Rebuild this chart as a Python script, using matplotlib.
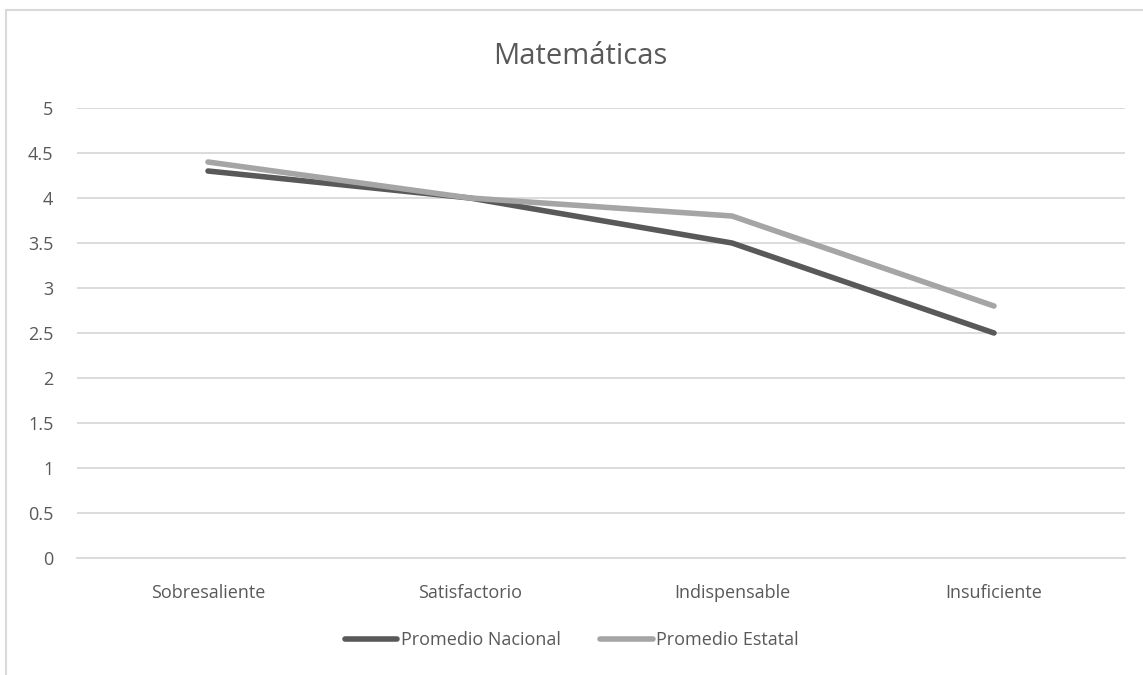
import matplotlib.pyplot as plt
from matplotlib.lines import Line2D

categories = ["Sobresaliente", "Satisfactorio", "Indispensable", "Insuficiente"]
nacional = [4.3, 4.0, 3.5, 2.5]
estatal = [4.4, 4.0, 3.8, 2.8]
y_ticks = [0, 0.5, 1, 1.5, 2, 2.5, 3, 3.5, 4, 4.5, 5]
y_tick_labels = ["0", "0.5", "1", "1.5", "2", "2.5", "3", "3.5", "4", "4.5", "5"]

plt.rcParams["font.family"] = ["Open Sans", "DejaVu Sans"]

text_color = "#595959"
grid_color = "#D9D9D9"

fig = plt.figure(figsize=(11.43, 6.75), dpi=100)
ax = fig.add_axes([77 / 1143, 1 - 558 / 675, 1048 / 1143, 450 / 675])

# chart border (cropped on right and bottom in the reference)
fig.add_artist(Line2D([6 / 1143, 6 / 1143], [0, 1 - 10 / 675], color=grid_color, lw=1.5))
fig.add_artist(Line2D([6 / 1143, 1], [1 - 10 / 675, 1 - 10 / 675], color=grid_color, lw=1.5))

x = range(len(categories))
ax.plot(x, nacional, color="#595959", lw=4, label="Promedio Nacional", solid_capstyle="round")
ax.plot(x, estatal, color="#A5A5A5", lw=4, label="Promedio Estatal", solid_capstyle="round")

ax.set_xlim(-0.5, len(categories) - 0.5)
ax.set_ylim(0, 5)
ax.set_yticks(y_ticks)
ax.set_yticklabels(y_tick_labels)
ax.set_xticks(list(x))
ax.set_xticklabels(categories)

ax.yaxis.grid(True, color=grid_color, lw=1.3)
ax.set_axisbelow(True)
for s in ax.spines.values():
    s.set_visible(False)
ax.spines["bottom"].set_visible(True)
ax.spines["bottom"].set_color(grid_color)
ax.spines["bottom"].set_linewidth(1.3)
ax.tick_params(axis="both", length=0, colors=text_color, labelsize=13)
ax.tick_params(axis="y", pad=17)
ax.tick_params(axis="x", pad=19)

fig.text(580 / 1143, 1 - 57 / 675, "Matemáticas", ha="center", va="center",
         fontsize=21, color=text_color)

fig.legend(loc="center", bbox_to_anchor=(572 / 1143, 1 - 640 / 675), ncol=2,
           frameon=False, fontsize=13, labelcolor=text_color,
           handlelength=2.9, handletextpad=0.2, columnspacing=2.2)

fig.savefig("out.png", dpi=100, facecolor="white")
